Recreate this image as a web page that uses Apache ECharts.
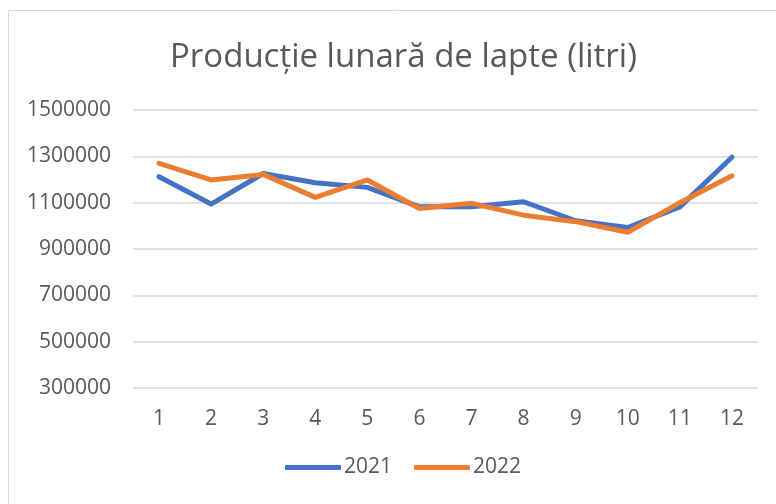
<!DOCTYPE html>
<html>
<head>
<meta charset="utf-8">
<script src="https://cdn.jsdelivr.net/npm/echarts@6/dist/echarts.min.js"></script>
<style>
  html, body { margin: 0; padding: 0; background: #fff; }
  #chart { width: 776px; height: 504px; }
</style>
</head>
<body>
<div id="chart"></div>
<script>
// ===== 数据 =====
var luni = ['1', '2', '3', '4', '5', '6', '7', '8', '9', '10', '11', '12'];
var productie2021 = [1212000, 1094000, 1226000, 1186000, 1166000, 1082000, 1082000, 1104000, 1022000, 993000, 1082000, 1296000];
var productie2022 = [1270000, 1198000, 1222000, 1123000, 1198000, 1075000, 1097000, 1046000, 1018000, 972000, 1100000, 1216000];

var textColor = '#595959';
var fontName = '"Open Sans", "Noto Sans", sans-serif';

var chart = echarts.init(document.getElementById('chart'));

var option = {
  backgroundColor: '#fff',
  animation: false,
  graphic: [{
    type: 'rect',
    shape: { x: 8.5, y: 10.5, width: 800, height: 600 },
    style: { fill: 'none', stroke: '#d9d9d9', lineWidth: 1 },
    silent: true
  }],
  title: {
    text: 'Producție lunară de lapte (litri)',
    left: 165,
    top: 36,
    textStyle: { color: textColor, fontSize: 33, fontWeight: 'normal', fontFamily: fontName }
  },
  legend: {
    bottom: 21,
    left: 280,
    itemWidth: 56,
    itemHeight: 5,
    itemGap: 22,
    icon: 'roundRect',
    textStyle: { color: textColor, fontSize: 21, fontFamily: fontName, padding: [0, 0, 0, -2] },
    data: ['2021', '2022']
  },
  grid: { left: 133, right: 18, top: 110, bottom: 116, containLabel: false },
  xAxis: {
    type: 'category',
    data: luni,
    boundaryGap: true,
    axisLine: { show: false },
    axisTick: { show: false },
    axisLabel: { color: textColor, fontSize: 21, fontFamily: fontName, margin: 21 }
  },
  yAxis: {
    type: 'value',
    min: 300000,
    max: 1500000,
    interval: 200000,
    axisLine: { show: false },
    axisTick: { show: false },
    splitLine: { lineStyle: { color: '#d9d9d9', width: 1.5 } },
    axisLabel: {
      color: textColor, fontSize: 21, fontFamily: fontName, margin: 22,
      formatter: function(v) { return String(v); }
    }
  },
  series: [{
    name: '2021',
    type: 'line',
    data: productie2021,
    symbol: 'none',
    lineStyle: { color: '#4472C4', width: 5, cap: 'round', join: 'round' },
    itemStyle: { color: '#4472C4' }
  }, {
    name: '2022',
    type: 'line',
    data: productie2022,
    symbol: 'none',
    lineStyle: { color: '#ED7D31', width: 5, cap: 'round', join: 'round' },
    itemStyle: { color: '#ED7D31' }
  }]
};

chart.setOption(option);

window.addEventListener('resize', function() {
  chart.resize();
});
</script>
</body>
</html>
